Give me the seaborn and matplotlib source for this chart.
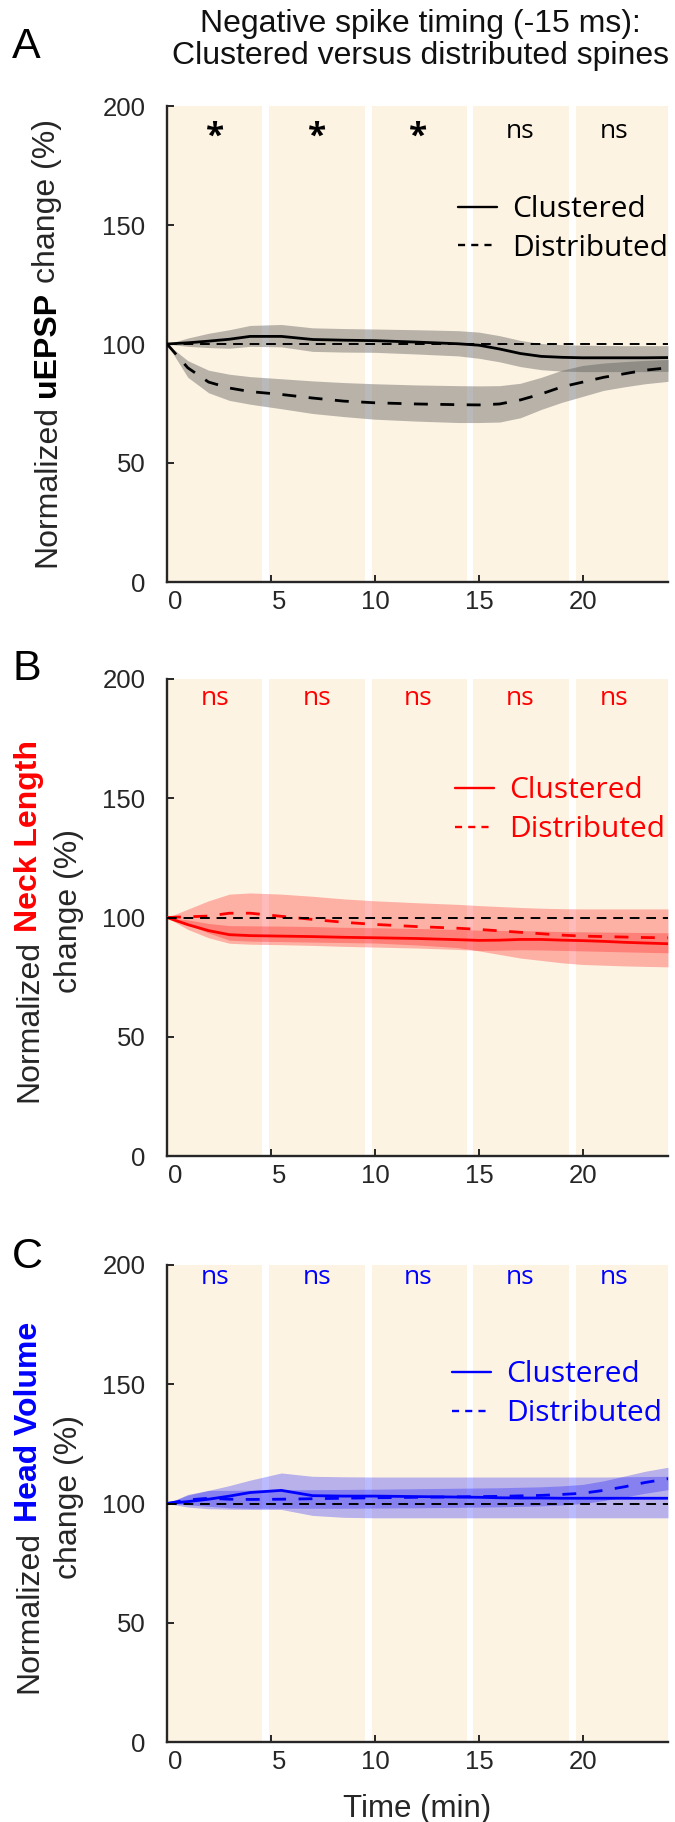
import numpy as np
import pandas as pd
import matplotlib
matplotlib.use("Agg")
import matplotlib.pyplot as plt
import matplotlib.transforms as mtransforms
from matplotlib.lines import Line2D
import seaborn as sns

# ---------------- data ----------------
time_min = [0, 1, 2, 3, 4, 5.5, 7, 8.5, 10, 12, 14, 15, 16, 17, 18, 19, 20, 21, 22, 23, 24.1]

# Panel A: uEPSP
uepsp_clu_mean = [100, 100.5, 101.2, 102, 103.2, 103.2, 101.9, 101.6, 101.4, 100.8, 100.1, 99.5, 97.9, 96, 94.8, 94.4, 94.2, 94.2, 94.2, 94.2, 94.3]
uepsp_clu_hi = [100, 102.5, 104.5, 106, 107.8, 108.2, 106.8, 106.5, 106.3, 106, 105.6, 105, 103.5, 101.5, 100.2, 99.7, 99.5, 99.4, 99.3, 99.3, 99.3]
uepsp_clu_lo = [100, 99, 98.5, 98.2, 99, 98.8, 96.9, 96.6, 96.5, 95.8, 95, 94, 92.5, 90.5, 89.2, 88.6, 88.4, 88.4, 88.4, 88.4, 88.5]
uepsp_dis_mean = [100, 90, 84, 81.5, 80, 78.8, 77.3, 76, 75.3, 74.8, 74.5, 74.4, 74.8, 76.5, 79, 82, 84, 86, 87.5, 89, 90]
uepsp_dis_hi = [100, 93, 89, 87.3, 86.3, 85.4, 84.5, 83.8, 83.3, 82.8, 82.5, 82.4, 82.5, 83.5, 86, 89, 91, 92, 92.6, 93.1, 93.5]
uepsp_dis_lo = [100, 86, 79.5, 76.3, 74.7, 72.8, 70.8, 69.5, 68.4, 67.6, 67, 67, 67.2, 69, 72.5, 75.5, 78, 80.5, 82, 83.3, 84.3]

# Panel B: neck length
neck_clu_mean = [100, 97, 94.5, 92.8, 92.4, 92.2, 92, 91.7, 91.5, 91.2, 90.7, 90.4, 90.5, 90.8, 90.8, 90.5, 90.3, 90, 89.6, 89.3, 89]
neck_clu_hi = [100, 99, 97.5, 96.6, 96.5, 96.4, 96.2, 95.9, 95.7, 95.4, 95, 94.7, 94.6, 94.5, 94.3, 94.1, 94, 93.9, 93.8, 93.7, 93.6]
neck_clu_lo = [100, 95, 91.5, 89.2, 88.8, 88.6, 88.3, 87.9, 87.6, 87.2, 86.6, 86.2, 86.3, 86.5, 86.4, 86.2, 86, 85.8, 85.6, 85.4, 85.2]
neck_dis_mean = [100, 100.3, 100.6, 101.8, 101.8, 100.5, 99.2, 98, 97.1, 96.2, 95.5, 95, 94.4, 93.8, 93.2, 92.6, 92.2, 92, 91.8, 91.6, 91.5]
neck_dis_hi = [100, 103.5, 107, 109.8, 110.3, 109.8, 108.9, 107.8, 107, 106.2, 105.5, 105, 104.6, 104.2, 103.9, 103.7, 103.6, 103.6, 103.6, 103.6, 103.6]
neck_dis_lo = [100, 97, 93.5, 90.5, 90.1, 89.9, 89.7, 89.5, 89.3, 88.5, 87.4, 86, 84.5, 83, 82, 81, 80.3, 80, 79.7, 79.5, 79.3]

# Panel C: head volume
head_clu_mean = [100, 100.8, 101.8, 103.1, 104.6, 105.5, 103.3, 103.1, 103.1, 102.9, 102.7, 102.6, 102.4, 102.3, 102.3, 102.2, 102.2, 102.2, 102.2, 102.2, 102.2]
head_clu_hi = [100, 103.5, 105.5, 107.5, 109.8, 112.8, 111.4, 111.2, 111.1, 111.1, 111.1, 111.1, 111.1, 111.1, 111.1, 111.1, 111.1, 111.1, 111.2, 111.3, 111.4]
head_clu_lo = [100, 98.5, 97.8, 97.6, 97.5, 97.5, 95, 94.2, 94, 94, 94, 94, 94, 94, 94, 94, 94, 94, 94, 94, 94]
head_dis_mean = [100, 101.5, 102.2, 101.8, 101.7, 101.8, 102, 102.2, 102.4, 102.6, 102.8, 102.9, 103, 103.2, 103.4, 103.8, 104.3, 105.5, 107, 108.8, 110.4]
head_dis_hi = [100, 103.8, 105.5, 105.5, 105.6, 105.7, 105.8, 105.9, 106, 106.2, 106.4, 106.5, 106.6, 106.8, 107, 107.4, 108, 109.5, 111.5, 113.5, 115.2]
head_dis_lo = [100, 99.5, 98.8, 98.2, 98, 98, 98, 98, 98.1, 98.2, 98.4, 98.5, 98.6, 98.8, 99, 99.4, 100, 101.2, 102.7, 104.3, 105.8]

# epochs (shaded background) and significance labels
epoch_start = [0, 4.92, 9.87, 14.72, 19.68]
epoch_end = [4.58, 9.52, 14.42, 19.32, 24.1]
sig_x = [2.3, 7.2, 12.1, 17.0, 21.5]
uepsp_sig = ["*", "*", "*", "ns", "ns"]
neck_sig = ["ns", "ns", "ns", "ns", "ns"]
head_sig = ["ns", "ns", "ns", "ns", "ns"]

x_ticks = [0, 5, 10, 15, 20]
y_ticks = [0, 50, 100, 150, 200]
groups = ["Clustered", "Distributed"]

# ---------------- style ----------------
sns.set_style("ticks")
plt.rcParams["font.family"] = ["Liberation Sans", "DejaVu Sans"]
plt.rcParams["axes.linewidth"] = 1.7

W, H, DPI = 675, 1822, 100
fig = plt.figure(figsize=(W / DPI, H / DPI), dpi=DPI)

DARK = "#262626"
BEIGE = "#FDF3E3"
LEG_FONT = "Open Sans"


def axes_rect(top, bottom, left=167, right=668):
    return [left / W, 1 - bottom / H, (right - left) / W, (bottom - top) / H]


panels = [
    dict(rect=axes_rect(106, 582), color="black", fill="#5a5a5a", alpha=0.42,
         clu=(uepsp_clu_mean, uepsp_clu_lo, uepsp_clu_hi),
         dis=(uepsp_dis_mean, uepsp_dis_lo, uepsp_dis_hi),
         sig=uepsp_sig, sig_y=186.5, leg=(0.581, 0.742)),
    dict(rect=axes_rect(679, 1156), color="#FF0000", fill="#FF0000", alpha=0.27,
         clu=(neck_clu_mean, neck_clu_lo, neck_clu_hi),
         dis=(neck_dis_mean, neck_dis_lo, neck_dis_hi),
         sig=neck_sig, sig_y=189.0, leg=(0.575, 0.725)),
    dict(rect=axes_rect(1265, 1742), color="#0000FF", fill="#0000FF", alpha=0.27,
         clu=(head_clu_mean, head_clu_lo, head_clu_hi),
         dis=(head_dis_mean, head_dis_lo, head_dis_hi),
         sig=head_sig, sig_y=192.0, leg=(0.569, 0.729)),
]

axes = []
for p in panels:
    ax = fig.add_axes(p["rect"])
    axes.append(ax)
    ax.set_facecolor("white")
    for s, e in zip(epoch_start, epoch_end):
        ax.axvspan(s, e, color=BEIGE, lw=0, zorder=0)

    # confidence bands
    for key in ("dis", "clu"):
        m, lo, hi = p[key]
        ax.fill_between(time_min, lo, hi, color=p["fill"], alpha=p["alpha"], lw=0, zorder=1)

    # mean lines via seaborn
    df = pd.DataFrame({
        "time": time_min * 2,
        "value": list(p["clu"][0]) + list(p["dis"][0]),
        "group": [groups[0]] * len(time_min) + [groups[1]] * len(time_min),
    })
    sns.lineplot(data=df, x="time", y="value", style="group",
                 dashes={"Clustered": "", "Distributed": (5, 4.5)},
                 color=p["color"], linewidth=2.0, legend=False, ax=ax, zorder=3)

    # reference line at 100 %
    ax.axhline(100, color="black", lw=1.4, dashes=(5, 3.5), zorder=4)

    # significance labels
    for xs, lab in zip(sig_x, p["sig"]):
        if lab == "*":
            ax.text(xs, p["sig_y"] + 0.5, lab, ha="center", va="center", fontsize=24,
                    fontweight="bold", family=LEG_FONT, color=p["color"], zorder=5)
        else:
            ax.text(xs, p["sig_y"], lab, ha="center", va="baseline", fontsize=19,
                    family=LEG_FONT, color=p["color"], zorder=5)

    # legend
    handles = [Line2D([], [], color=p["color"], lw=1.7),
               Line2D([], [], color=p["color"], lw=1.7, dashes=(3, 2.6))]
    ax.legend(handles, groups, loc="center left", bbox_to_anchor=p["leg"],
              frameon=False, handlelength=1.3, handletextpad=0.5,
              labelspacing=0.32, borderpad=0, borderaxespad=0,
              labelcolor=p["color"], prop={"family": LEG_FONT, "size": 21.5})

    ax.set_xlim(0, 24.1)
    ax.set_ylim(0, 200)
    ax.set_xticks(x_ticks)
    ax.set_yticks(y_ticks)
    ax.set_xlabel("")
    ax.set_ylabel("")
    sns.despine(ax=ax)
    for sp in ("left", "bottom"):
        ax.spines[sp].set_color(DARK)
        ax.spines[sp].set_linewidth(1.7)
    ax.tick_params(direction="in", length=5, width=1.4, colors=DARK, labelsize=18.5)
    ax.tick_params(axis="y", pad=15.5)
    ax.tick_params(axis="x", pad=6)
    offset = mtransforms.ScaledTranslation(15 / DPI, 0, fig.dpi_scale_trans)
    for lab in ax.get_xticklabels():
        lab.set_horizontalalignment("right")
        lab.set_transform(lab.get_transform() + offset)

# ---------------- figure texts ----------------
fig.text(420 / W, 1 - 40 / H, "Negative spike timing (-15 ms):\nClustered versus distributed spines",
         ha="center", va="center", fontsize=23, linespacing=1.1, color="#111111")

for letter, base in (("A", 58), ("B", 680), ("C", 1268)):
    fig.text(12 / W, 1 - base / H, letter, ha="left", va="baseline", fontsize=31, color="black")

fig.text(417.5 / W, 5 / H, "Time (min)", ha="center", va="baseline", fontsize=22.5, color=DARK)

renderer = fig.canvas.get_renderer()


def text_width(s, size, weight):
    t = fig.text(0, 0, s, fontsize=size, fontweight=weight)
    w = t.get_window_extent(renderer=renderer).width
    t.remove()
    return w


def vertical_label(x_base, y_center_img, pieces, size=23):
    space = text_width("x x", size, "normal") - text_width("xx", size, "normal")
    widths = [text_width(s, size, w) for s, c, w in pieces]
    total = sum(widths) + space * (len(pieces) - 1)
    y = (H - y_center_img) - total / 2
    for (s, c, w), wd in zip(pieces, widths):
        fig.text(x_base / W, y / H, s, rotation=90, rotation_mode="anchor",
                 ha="left", va="baseline", fontsize=size, fontweight=w, color=c)
        y += wd + space


vertical_label(55, 343, [("Normalized", DARK, "normal"), ("uEPSP", "black", "bold"),
                         ("change (%)", DARK, "normal")])
vertical_label(37, 921, [("Normalized", DARK, "normal"), ("Neck Length", "#FF0000", "bold")])
vertical_label(77, 911, [("change (%)", DARK, "normal")])
vertical_label(37, 1507, [("Normalized", DARK, "normal"), ("Head Volume", "#0000FF", "bold")])
vertical_label(77, 1497, [("change (%)", DARK, "normal")])

fig.savefig("out.png", dpi=DPI)
